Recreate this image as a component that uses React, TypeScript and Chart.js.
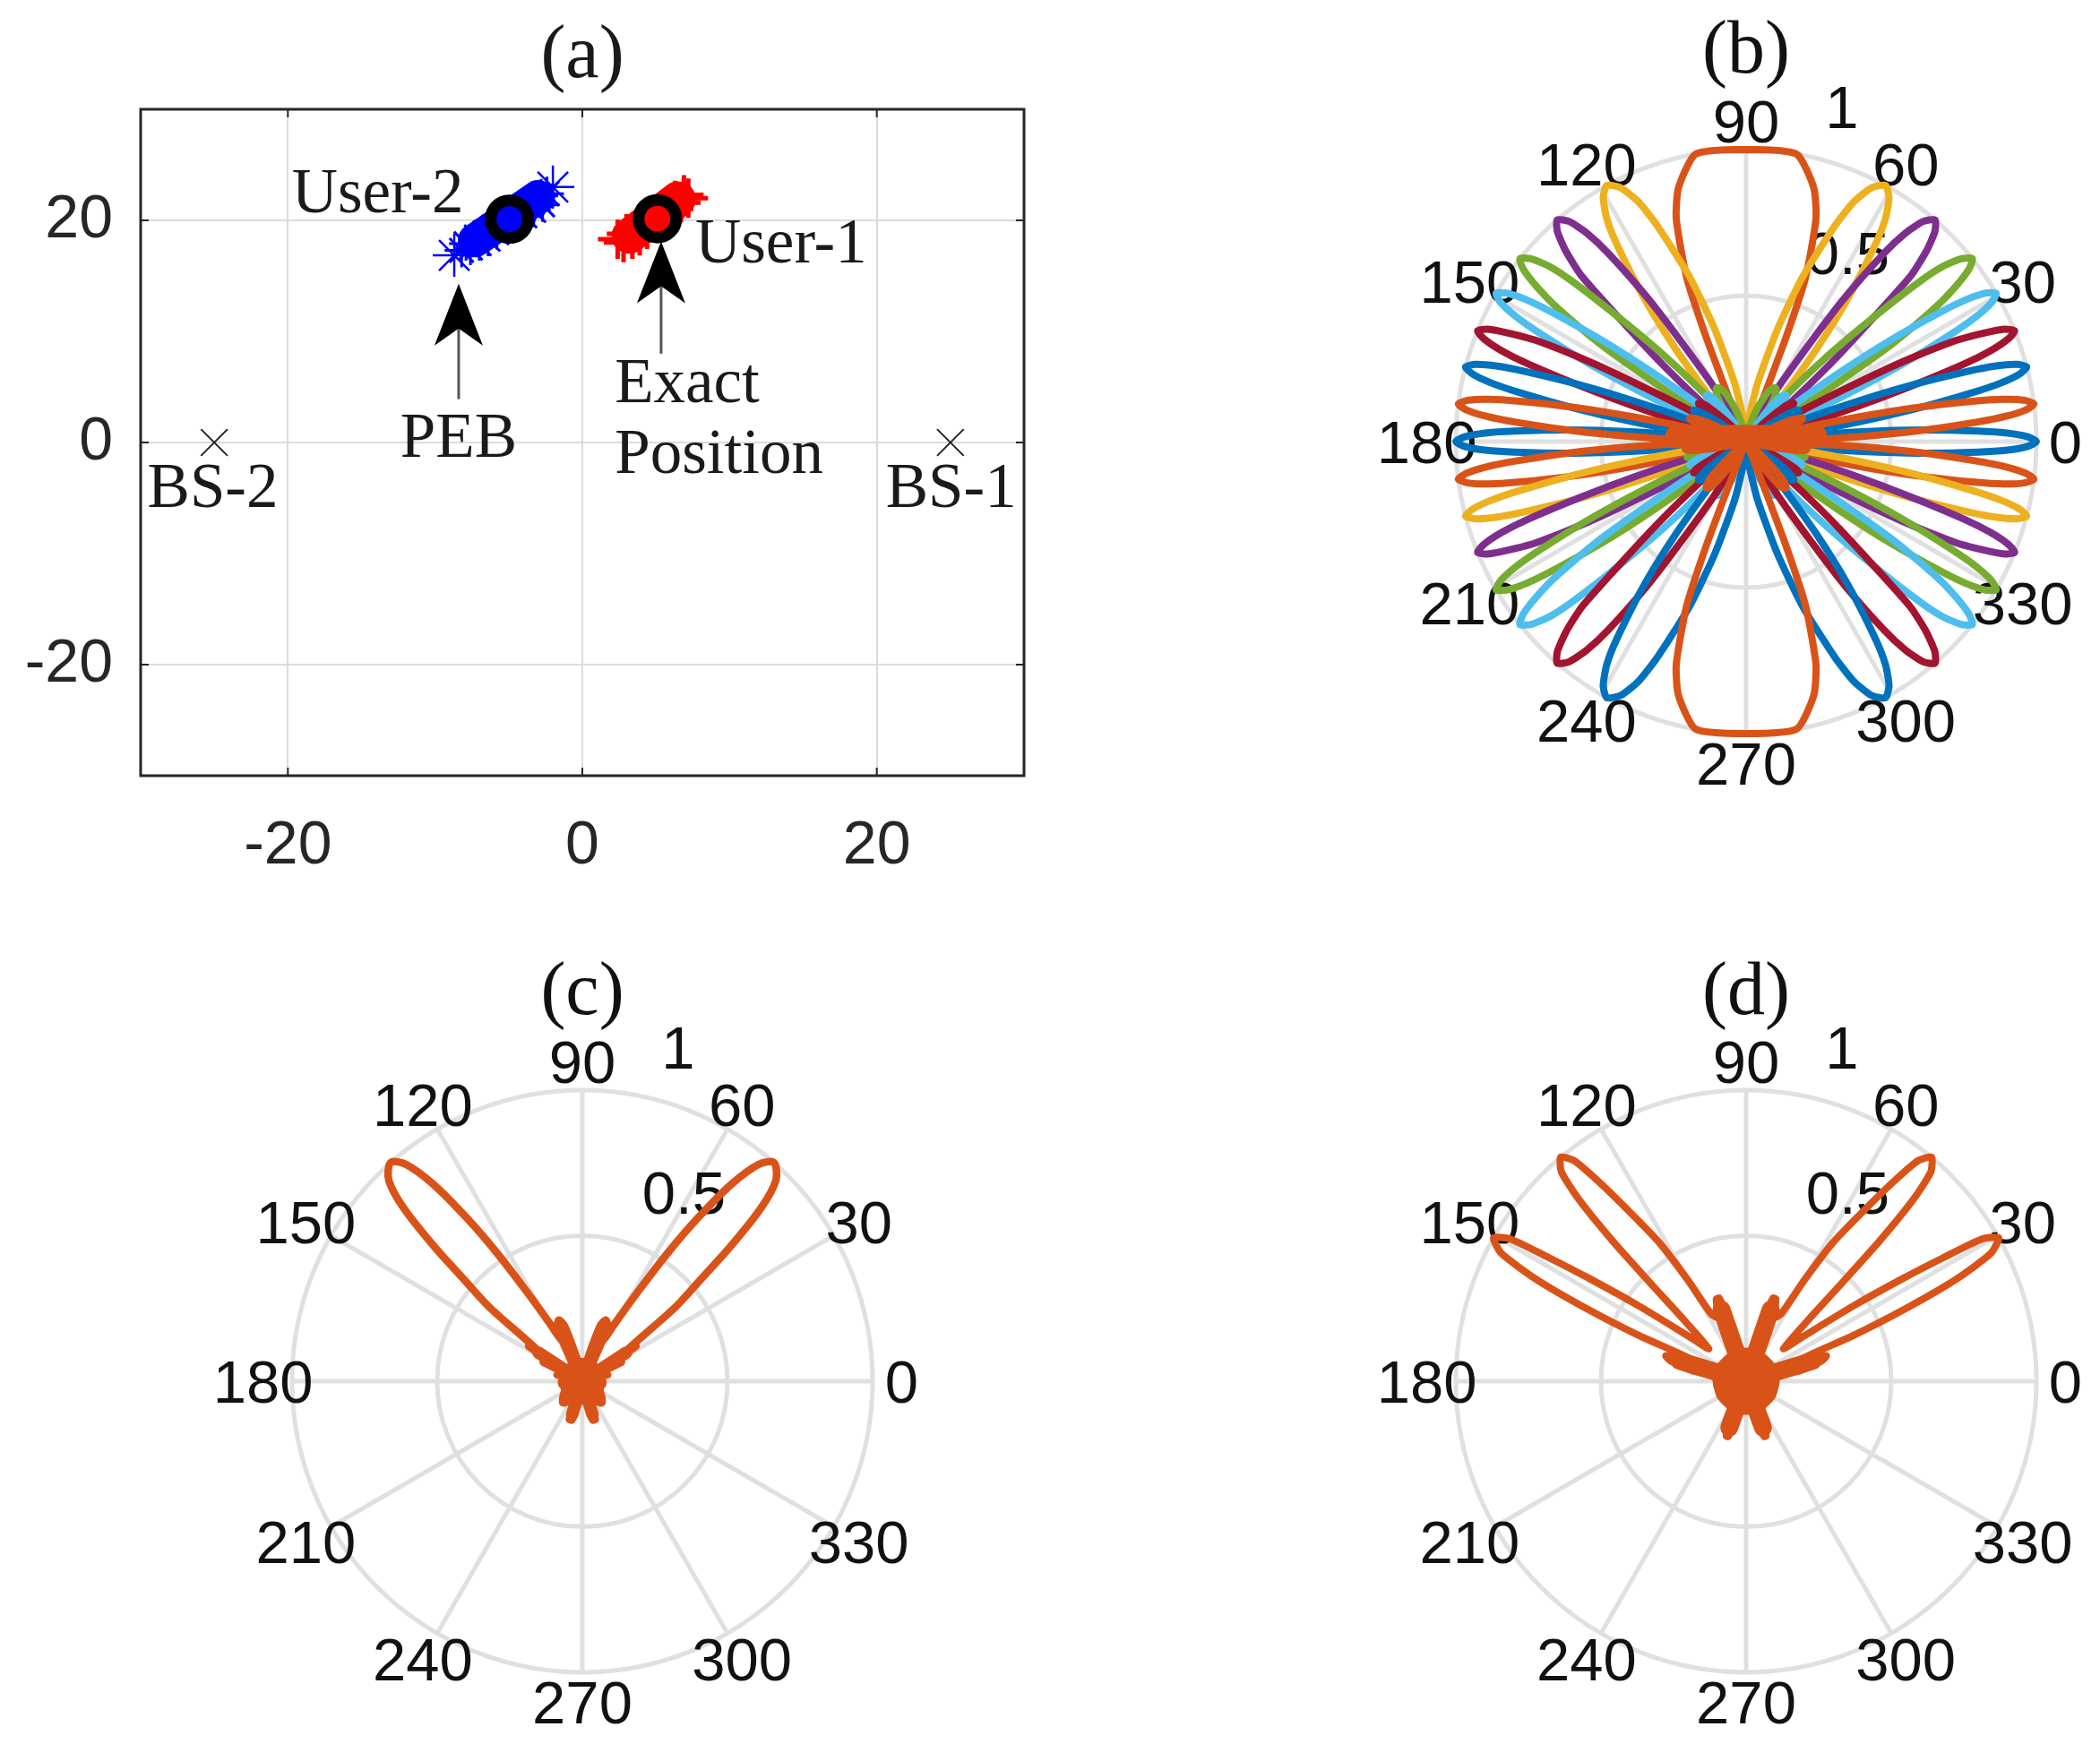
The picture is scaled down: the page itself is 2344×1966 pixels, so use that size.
import React, { useEffect, useRef } from "react";
import { Chart, registerables } from "chart.js";

Chart.register(...registerables);

// ---------- panel (a) ----------
const axisTicksA = [-20, 0, 20];
const user2Cloud = [
  [-8.2, 17.3], [-7.9, 17.9], [-7.6, 17.5], [-7.2, 18.5], [-7, 17.9], [-6.6, 18.9], [-6.4, 18.3], [-6, 19.4],
  [-5.8, 18.9], [-5.3, 19.9], [-5.1, 19.4], [-4.7, 20.6], [-4.5, 19.9], [-4, 21], [-3.9, 20.4], [-3.4, 21.6],
  [-3.3, 20.9], [-2.8, 22.2], [-2.7, 21.4], [-2.4, 22.4],
];
const user2Ends = [[-8.7, 16.85], [-2, 23]];
const user2Band = [[-7.3, 18.2], [-3, 22.1]];
const user1Cloud = [
  [2.4, 18.3], [2.8, 18], [3, 18.8], [3.4, 18.3], [3.5, 19], [3.9, 18.6], [4, 19.4], [4.4, 19.2], [4.6, 20],
  [5, 19.8], [5.2, 20.6], [5.6, 20.4], [5.8, 21.2], [6.2, 21], [6.3, 21.8], [6.7, 21.6], [6.9, 22.3], [7.2, 22],
];
const user1Band = [[3.2, 18.6], [6.5, 21.9]];
const exactPositions = [[-4.95, 20.1], [5.1, 20.15]];
const baseStations = [[-25, 0], [25, 0]];
const notesA: [string, number, number, CanvasTextAlign][] = [
  ["User-2", -13.9, 22.2, "center"],
  ["User-1", 13.5, 17.7, "center"],
  ["PEB", -8.4, 0.2, "center"],
  ["Exact", 2.2, 5.1, "left"],
  ["Position", 2.2, -1.2, "left"],
  ["BS-2", -25.1, -4.3, "center"],
  ["BS-1", 25.05, -4.3, "center"],
];
const arrowsA = [
  { x: -8.4, tip: 14.3, tail: 3.9 },
  { x: 5.35, tip: 18.1, tail: 8.0 },
];

// ---------- polar axes ----------
const angleTicks = [0, 30, 60, 90, 120, 150, 180, 210, 240, 270, 300, 330];
const ringTicks = [0.5, 1];
const ringLabelSpots: [string, number, number][] = [["0.5", 0.35, 0.65], ["1", 0.33, 1.15]];

// ---------- panel (b): each beam read as angle (deg) at fixed gain levels ----------
const lobeRadii = [0, 0.05, 0.2, 0.4, 0.6, 0.8, 0.9, 0.97, 1, 0.97, 0.9, 0.8, 0.6, 0.4, 0.2, 0.05, 0];
const lobe90Radii = [0, 0.05, 0.2, 0.4, 0.6, 0.8, 0.9, 1, 1, 1, 0.9, 0.8, 0.6, 0.4, 0.2, 0.05, 0];
const sideLobeGain = 0.21;
const lobe0 = [-7.2, -6.83, -5.88, -4.82, -3.78, -2.58, -1.86, -0.97, 0, 0.97, 1.86, 2.58, 3.78, 4.82, 5.88, 6.83, 7.2];
const lobe7 = [0, 0.56, 1.51, 2.57, 3.6, 4.81, 5.53, 6.42, 7.4, 8.38, 9.28, 10.01, 11.23, 12.29, 13.37, 14.35, 15];
const lobe15 = [7, 7.84, 8.8, 9.87, 10.92, 12.15, 12.88, 13.79, 14.8, 15.81, 16.73, 17.48, 18.75, 19.84, 20.97, 21.99, 23];
const lobe22 = [14.5, 15.29, 16.27, 17.38, 18.46, 19.5, 20.3, 21.3, 22.3, 23.4, 24.4, 25.6, 26.9, 27.82, 29.03, 30.11, 31];
const lobe30 = [22, 22.86, 23.89, 25.06, 26.2, 27.55, 28.36, 29.37, 30.5, 31.63, 32.68, 33.54, 35, 36.26, 37.59, 38.79, 40];
const lobe39 = [30, 30.5, 31.5, 32.7, 33.6, 35.2, 36.4, 37.6, 38.8, 40.2, 41.6, 42.6, 44.2, 46.3, 49, 50, 51];
const lobe49 = [39, 39.9, 41.13, 42.56, 43.98, 45.0, 46.4, 47.9, 49.4, 51.03, 52.46, 53.65, 55.4, 56.9, 59.64, 61.56, 63];
const lobe61 = [48, 49.4, 50.9, 52.6, 54.4, 56.5, 57.8, 59.5, 61.3, 63.6, 65.7, 67.5, 70.9, 74.3, 78.9, 86.2, 90];
const lobe90 = [66, 68, 68.5, 69, 70, 72.5, 75, 80, 90, 100, 105, 107.5, 110, 111, 111.5, 112, 114];
const lobesByStep = [lobe0, lobe7, lobe15, lobe22, lobe30, lobe39, lobe49, lobe61, lobe90];
const beamColors = ["#0072BD", "#D95319", "#EDB120", "#7E2F8E", "#77AC30", "#4DBEEE", "#A2142F"];
// signed step of each beam, in plotting order
const beamSteps = [0, -1, -2, -3, -4, -5, -6, -7, -8, 7, 6, 5, 4, 3, 2, 1];
const coreBandB = [[4, 0.24], [176, 0.24]];

// ---------- panel (c): [angle deg, gain] ----------
const beamCUpper = [
  [0, 0.07], [8, 0.02], [14, 0.09], [20, 0.03], [26, 0.15], [30, 0.06], [33, 0.22], [34.7, 0.19], [38.4, 0.406], [40.5, 0.53],
  [42.2, 0.69], [44, 0.855], [46, 0.96], [48.7, 1], [50.8, 0.961], [52.8, 0.85], [54.6, 0.69], [56.2, 0.537], [58, 0.37], [60.5, 0.23],
  [63, 0.16], [66, 0.21], [69, 0.225], [72, 0.2], [76, 0.09], [82, 0.03], [86, 0.06], [90, 0.01],
];
const beamCLower = [
  [0, 0.07], [-10, 0.07], [-20, 0.04], [-30, 0.07], [-48, 0.1], [-58, 0.07], [-65, 0.03], [-71, 0.137], [-75, 0.137], [-80, 0.05], [-90, 0.02],
];
const coreRadiusC = 0.05;
const spikesC = [[67, 0.19], [0, 0], [113, 0.19], [0, 0], [33, 0.18], [0, 0], [147, 0.18], [0, 0], [253, 0.12], [0, 0], [287, 0.12]];

// ---------- panel (d): [angle deg, gain] ----------
const beamDUpper = [
  [0, 0.1], [6, 0.04], [11, 0.19], [15, 0.27], [17.6, 0.29], [21.8, 0.21], [23, 0.4], [24.3, 0.59], [25.8, 0.8], [27.5, 0.95],
  [29.5, 1], [31, 0.95], [32, 0.8], [33.2, 0.64], [35, 0.45], [38, 0.25], [41, 0.17], [44.5, 0.3], [45.5, 0.45], [46.3, 0.66],
  [47.3, 0.85], [48.5, 0.96], [50.3, 1], [52, 0.96], [53.5, 0.85], [55.5, 0.7], [57.9, 0.56], [60, 0.4], [62.5, 0.26], [66, 0.24],
  [70, 0.3], [72, 0.3], [76, 0.2], [80, 0.08], [85, 0.04], [90, 0.05],
];
const beamDLower = [
  [0, 0.1], [-15, 0.1], [-30, 0.07], [-45, 0.1], [-58, 0.06], [-65, 0.14], [-70, 0.2], [-72, 0.2], [-77, 0.12], [-85, 0.04], [-90, 0.06],
];
const coreRadiusD = 0.06;
const spikesD = [[71, 0.26], [0, 0], [109, 0.26], [0, 0], [17, 0.24], [0, 0], [163, 0.24], [0, 0], [250, 0.17], [0, 0], [290, 0.17]];

// ---------- helpers ----------
const SANS = '"Liberation Sans", Arial, sans-serif';
const SERIF = '"Liberation Serif", serif';
const GRID = "#e0e0e0";
const INK = "#111111";
const ORANGE = "#D95319";

const rad = (d: number) => (d * Math.PI) / 180;
const toXY = ([a, r]: number[]) => ({ x: r * Math.cos(rad(a)), y: r * Math.sin(rad(a)) });
const mirrorX = (pts: number[][]) => pts.map(([a, r]) => [180 - a, r]).reverse();
const xy = (pts: number[][]) => pts.map(([x, y]) => ({ x, y }));
const ringOf = (r: number) => [...angleTicks, 360].map((a) => [a, r]);

function line(pts: number[][], color: string, width: number, tension = 0.15) {
  return {
    data: pts.map(toXY), showLine: true, borderColor: color, borderWidth: width, pointRadius: 0,
    tension, clip: false, borderJoinStyle: "round", borderCapStyle: "round", fill: false,
  };
}

function beamPath(step: number) {
  const sign = step < 0 ? -1 : 1;
  const abs = Math.abs(step);
  const radii = abs === 8 ? lobe90Radii : lobeRadii;
  const pts: number[][] = [];
  const add = (angles: number[], gains: number[], scale: number, s: number) => {
    const lobe = angles.map((a, i) => [s * a, gains[i] * scale]);
    pts.push(...lobe, ...lobe.map(([a, r]) => [180 - a, r]));
  };
  // side lobes sit two steps away from the main lobe, at about a fifth of its gain
  [step - 2, step + 2].forEach((n) => {
    if (Math.abs(n) <= 7) add(lobesByStep[Math.abs(n)], lobeRadii, sideLobeGain, n < 0 ? -1 : 1);
  });
  add(lobesByStep[abs], radii, 1, sign);
  if (abs === 8) add(lobesByStep[abs], radii, 1, -sign);
  return pts;
}

function fullPattern(upper: number[][], lower: number[][]) {
  return [...upper, ...mirrorX(upper), ...mirrorX(lower), ...[...lower].reverse()];
}

function polarFrame(title: string) {
  return {
    id: "polarFrame",
    beforeDatasetsDraw(chart: any) {
      const { ctx, scales: { x, y } } = chart;
      const cx = x.getPixelForValue(0);
      const cy = y.getPixelForValue(0);
      const rx = x.getPixelForValue(1) - cx;
      const ry = cy - y.getPixelForValue(1);
      ctx.save();
      ctx.strokeStyle = GRID;
      ctx.lineWidth = 5;
      ringTicks.forEach((t) => {
        ctx.beginPath();
        ctx.ellipse(cx, cy, rx * t, ry * t, 0, 0, Math.PI * 2);
        ctx.stroke();
      });
      angleTicks.forEach((a) => {
        ctx.beginPath();
        ctx.moveTo(cx, cy);
        ctx.lineTo(x.getPixelForValue(Math.cos(rad(a))), y.getPixelForValue(Math.sin(rad(a))));
        ctx.stroke();
      });
      ctx.fillStyle = INK;
      ctx.textAlign = "center";
      ctx.textBaseline = "middle";
      ctx.font = `67px ${SANS}`;
      angleTicks.forEach((a) => {
        ctx.fillText(String(a), x.getPixelForValue(1.1 * Math.cos(rad(a))), y.getPixelForValue(1.1 * Math.sin(rad(a))) + 6);
      });
      ringLabelSpots.forEach(([s, px, py]) => ctx.fillText(s, x.getPixelForValue(px), y.getPixelForValue(py) + 6));
      ctx.font = `84px ${SERIF}`;
      ctx.fillText(title, cx, y.getPixelForValue(1.33));
      ctx.restore();
    },
  };
}

const frameA = {
  id: "frameA",
  afterDatasetsDraw(chart: any) {
    const { ctx, chartArea: a, scales: { x, y } } = chart;
    ctx.save();
    ctx.strokeStyle = "#262626";
    ctx.lineWidth = 3;
    ctx.strokeRect(a.left, a.top, a.right - a.left, a.bottom - a.top);
    ctx.lineWidth = 2;
    axisTicksA.forEach((t) => {
      const px = x.getPixelForValue(t);
      const py = y.getPixelForValue(t);
      ctx.beginPath();
      ctx.moveTo(px, a.bottom); ctx.lineTo(px, a.bottom - 9);
      ctx.moveTo(px, a.top); ctx.lineTo(px, a.top + 9);
      ctx.moveTo(a.left, py); ctx.lineTo(a.left + 9, py);
      ctx.moveTo(a.right, py); ctx.lineTo(a.right - 9, py);
      ctx.stroke();
    });
    arrowsA.forEach(({ x: ax, tip, tail }) => {
      const px = x.getPixelForValue(ax);
      const tipY = y.getPixelForValue(tip);
      ctx.strokeStyle = "#555555";
      ctx.lineWidth = 3;
      ctx.beginPath();
      ctx.moveTo(px, tipY + 50);
      ctx.lineTo(px, y.getPixelForValue(tail));
      ctx.stroke();
      ctx.fillStyle = "#000000";
      ctx.beginPath();
      ctx.moveTo(px, tipY);
      ctx.lineTo(px + 27, tipY + 69);
      ctx.lineTo(px, tipY + 50);
      ctx.lineTo(px - 27, tipY + 69);
      ctx.closePath();
      ctx.fill();
    });
    ctx.fillStyle = "#1a1a1a";
    ctx.font = `71px ${SERIF}`;
    ctx.textBaseline = "middle";
    notesA.forEach(([s, nx, ny, align]) => {
      ctx.textAlign = align;
      ctx.fillText(s, x.getPixelForValue(nx), y.getPixelForValue(ny));
    });
    ctx.textAlign = "center";
    ctx.font = `84px ${SERIF}`;
    ctx.fillText("(a)", x.getPixelForValue(0), 64);
    ctx.restore();
  },
};

function stack(datasets: any[]) {
  return datasets.map((d, i) => ({ ...d, order: datasets.length - i }));
}

function baseOptions(padding: any, scales: any) {
  return {
    responsive: false, animation: false as const, devicePixelRatio: 1, events: [] as string[],
    layout: { padding },
    plugins: { legend: { display: false }, tooltip: { enabled: false }, title: { display: false } },
    scales,
  };
}

const hiddenAxis = { type: "linear", display: false, min: -1, max: 1 };

function polarConfig(datasets: any[], title: string, padding: any) {
  return {
    type: "scatter",
    data: { datasets: stack(datasets) },
    options: baseOptions(padding, { x: hiddenAxis, y: hiddenAxis }),
    plugins: [polarFrame(title)],
  };
}

function tickedAxis(fixFit: (s: any) => void, padding: number) {
  return {
    type: "linear", min: -30, max: 30,
    afterBuildTicks: (s: any) => { s.ticks = axisTicksA.map((value) => ({ value })); },
    afterFit: fixFit,
    grid: { color: "#dcdcdc", lineWidth: 2, drawTicks: false },
    border: { display: false },
    ticks: { color: "#262626", font: { family: SANS, size: 68 }, padding, maxRotation: 0, autoSkip: false, callback: (v: any) => String(v) },
  };
}

const bandLine = (pts: number[][], color: string, width: number) => ({
  data: xy(pts), showLine: true, borderColor: color, borderWidth: width, pointRadius: 0, fill: false, borderCapStyle: "round",
});

const configA = {
  type: "scatter",
  data: {
    datasets: stack([
      { data: xy(baseStations), pointStyle: "crossRot", pointRadius: 21, borderColor: "#222", borderWidth: 2, backgroundColor: "transparent", clip: false },
      bandLine(user2Band, "#0000ff", 38),
      { data: xy(user2Cloud), pointStyle: "star", pointRadius: 19, borderColor: "#0000ff", borderWidth: 3, backgroundColor: "#0000ff" },
      { data: xy(user2Ends), pointStyle: "star", pointRadius: 24, borderColor: "#0000ff", borderWidth: 2.5, backgroundColor: "#0000ff" },
      bandLine(user1Band, "#ff0000", 40),
      { data: xy(user1Cloud), pointStyle: "cross", pointRadius: 22, borderColor: "#ff0000", borderWidth: 5, backgroundColor: "#ff0000" },
      { data: xy(exactPositions.slice(0, 1)), pointStyle: "circle", pointRadius: 15, borderWidth: 0, backgroundColor: "#0000ff" },
      { data: xy(exactPositions.slice(1)), pointStyle: "circle", pointRadius: 15, borderWidth: 0, backgroundColor: "#ff0000" },
      { data: xy(exactPositions), pointStyle: "circle", pointRadius: 21, borderColor: "#000", borderWidth: 13, backgroundColor: "transparent" },
    ]),
  },
  options: baseOptions({ top: 122, right: 57 }, {
    x: tickedAxis((s: any) => { s.height = 134; }, 38),
    y: tickedAxis((s: any) => { s.width = 157; }, 31),
  }),
  plugins: [frameA],
};

const configB = polarConfig(
  [
    ...beamSteps.map((step, i) => line(beamPath(step), beamColors[i % beamColors.length], 8, 0.2)),
    line(coreBandB, ORANGE, 26, 0),
  ],
  "(b)",
  { left: 125, right: 71, top: 167, bottom: 181 },
);

const configC = polarConfig(
  [
    line(ringOf(coreRadiusC), ORANGE, 20, 0),
    line(spikesC, ORANGE, 14, 0),
    line(fullPattern(beamCUpper, beamCLower), ORANGE, 8.5, 0.3),
  ],
  "(c)",
  { left: 126, right: 126, top: 217, bottom: 99 },
);

const configD = polarConfig(
  [
    line(ringOf(coreRadiusD), ORANGE, 36, 0),
    line(spikesD, ORANGE, 20, 0),
    line(fullPattern(beamDUpper, beamDLower), ORANGE, 8, 0.2),
  ],
  "(d)",
  { left: 125, right: 71, top: 217, bottom: 99 },
);

function Panel({ config, left, top, width, height }: any) {
  const ref = useRef<HTMLCanvasElement>(null);
  useEffect(() => {
    const chart = new Chart(ref.current as HTMLCanvasElement, config);
    return () => chart.destroy();
  }, [config]);
  return <canvas ref={ref} width={width} height={height} style={{ position: "absolute", left, top, width, height }} />;
}

export default function App() {
  return (
    <div style={{ position: "absolute", left: 0, top: 0, width: 2344, height: 1966, background: "#fff", overflow: "hidden" }}>
      <Panel config={configA} left={0} top={0} width={1200} height={1000} />
      <Panel config={configB} left={1500} top={0} width={844} height={1000} />
      <Panel config={configC} left={200} top={1000} width={900} height={966} />
      <Panel config={configD} left={1500} top={1000} width={844} height={966} />
    </div>
  );
}
